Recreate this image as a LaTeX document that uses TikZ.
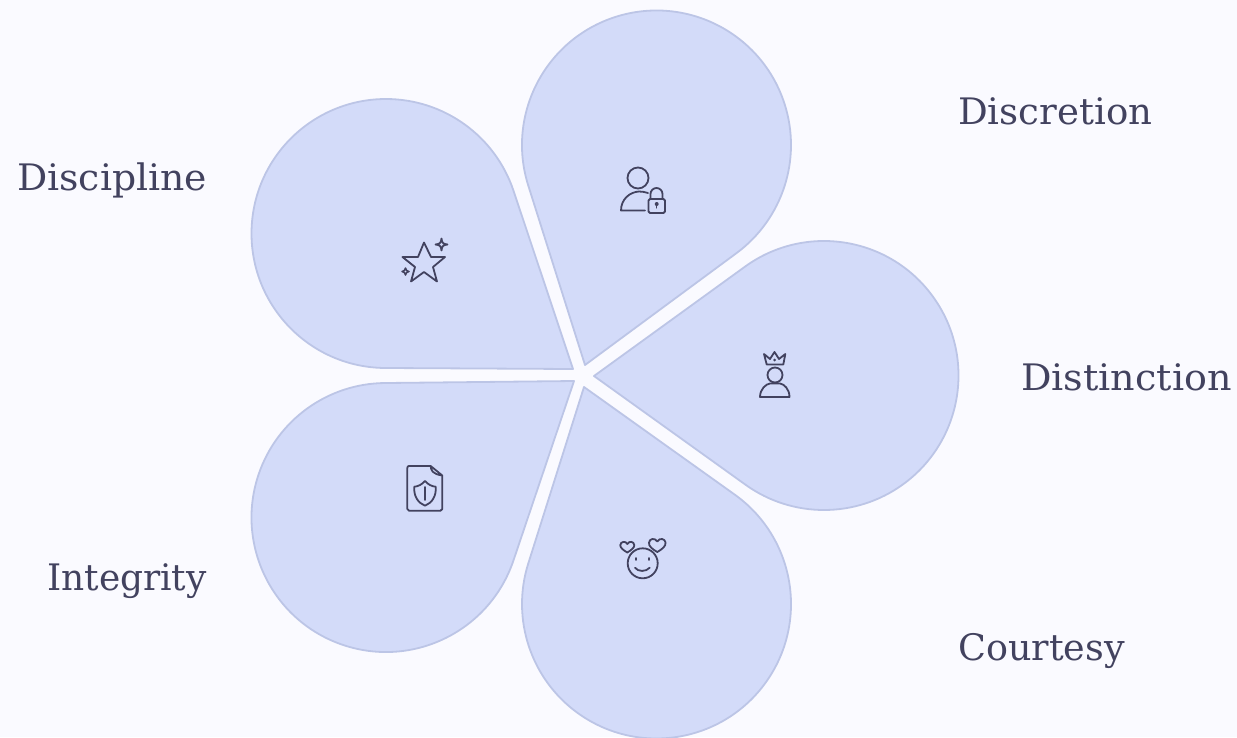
\documentclass[tikz,border=0pt]{standalone}
\usepackage{graphicx}
\usepackage{fontspec}
\setmainfont{DejaVu Serif}
\usetikzlibrary{calc}
\definecolor{bgc}{HTML}{FAFAFF}
\definecolor{petalfill}{HTML}{D3DBF9}
\definecolor{petalline}{HTML}{BCC5E6}
\definecolor{ink}{HTML}{42425F}
\newcommand{\petal}[5]{% name cx cy tipx tipy
  \pgfmathsetmacro{\th}{atan2(#5-#3,#4-#2)}
  \pgfmathsetmacro{\dd}{veclen(#4-#2,#5-#3)}
  \pgfmathsetmacro{\al}{acos(134.5/\dd)}
  \pgfmathsetmacro{\sa}{\th+\al}
  \pgfmathsetmacro{\ea}{\th-\al+360}
  \coordinate (#1 tip) at (#4,#5);
  \coordinate (#1 c) at (#2,#3);
  \draw[petalstyle] (#1 tip) -- ($(#1 c)+(\sa:134.5)$) arc[start angle=\sa,end angle=\ea,radius=134.5] -- cycle;
}
\tikzset{
  petalstyle/.style={fill=petalfill,draw=petalline,line width=1.8pt,line join=round},
  icon/.style={draw=ink,line width=1.8pt,line join=round,line cap=round},
  label/.style={anchor=base west,inner sep=0pt,text=ink,font=\fontsize{36.5}{42}\selectfont}
}
\begin{document}
\begin{tikzpicture}[x=1pt,y=-1pt]
\useasboundingbox (0,0) rectangle (1237,737);
\fill[bgc] (0,0) rectangle (1237,737);
\petal{discretion}{656.5}{145}{585}{365}
\petal{distinction}{824}{375.5}{594}{376}
\petal{courtesy}{656.5}{604}{584}{387}
\petal{integrity}{386}{517.5}{574}{381}
\petal{discipline}{386}{233.5}{573}{369}
% labels
\node[label] (lDiscretion) at (958,124.5) {\scalebox{1.017}[1]{Discretion}};
\node[label] (lDistinction) at (1021,390.5) {\scalebox{1.043}[1]{Distinction}};
\node[label] (lCourtesy) at (958,660.5) {\scalebox{1.0}[1]{Courtesy}};
\node[label] (lIntegrity) at (47,590.5) {\scalebox{0.985}[1]{Integrity}};
\node[label] (lDiscipline) at (17,190.5) {\scalebox{1.034}[1]{Discipline}};
% person lock
\draw[icon] (638,178) circle[radius=10.5];
\draw[icon] (645,210.5) -- (621,210.5) .. controls (621,199) and (630,192) .. (639,191.5) .. controls (642,191.5) and (645,192) .. (648,193);
\draw[icon,rounded corners=1.5pt] (648.5,199) rectangle (665,213);
\draw[icon] (650.5,199) -- (650.5,194) arc[start angle=180,end angle=360,radius=6] -- (662.5,199);
\fill[ink] (656.7,204) circle[radius=2];
\draw[icon,line width=1pt] (656.7,204) -- (656.7,208);
% star
\draw[icon] (424,242.5) -- (431,257) -- (445,257) -- (433,267) -- (437,281.5) -- (424,272) -- (411,281.5) -- (415,267) -- (402.5,257) -- (418,257) -- cycle;
\draw[icon] (441.5,238.5) .. controls (442,243) and (443,244) .. (447.5,244.5) .. controls (443,245) and (442,246) .. (441.5,250.5) .. controls (441,246) and (440,245) .. (435.5,244.5) .. controls (440,244) and (441,243) .. (441.5,238.5) -- cycle;
\draw[icon,line width=1.5pt] (405.5,268) .. controls (406,270.5) and (407,271) .. (409,271.5) .. controls (407,272) and (406,272.5) .. (405.5,275) .. controls (405,272.5) and (404,272) .. (402,271.5) .. controls (404,271) and (405,270.5) .. (405.5,268) -- cycle;
% crown person
\draw[icon] (764,354) -- (770,359) -- (774.5,352) -- (779,359) -- (785.3,354) -- (783.3,364.5) -- (766.7,364.5) -- cycle;
\fill[ink] (774.5,360) circle[radius=1.5];
\draw[icon] (775,375) circle[radius=7.5];
\draw[icon] (760,397) .. controls (760,389) and (766,384) .. (770,383.5) -- (780,383.5) .. controls (784,384) and (789.5,389) .. (789.5,397) -- cycle;
% document shield
\draw[icon] (430.7,466) -- (409,466) .. controls (408,466) and (407.3,466.7) .. (407.3,468) -- (407.3,509) .. controls (407.3,510) and (408,510.7) .. (409,510.7) -- (440.5,510.7) .. controls (441.5,510.7) and (442.3,510) .. (442.3,509) -- (442.3,475.5) -- (430.7,466) .. controls (431,470) and (432,474) .. (442.3,475.5);
\draw[icon] (425,481) .. controls (428,484.5) and (432,486.5) .. (435.7,486.7) .. controls (436.5,496) and (432,503) .. (425,505.7) .. controls (418,503) and (413.5,496) .. (414.3,486.7) .. controls (418,486.5) and (422,484.5) .. (425,481) -- cycle;
\draw[icon] (425,487) -- (425,500);
% smile
\draw[icon] (642.7,563.3) circle[radius=15];
\draw[icon] (636.3,558) -- (636.3,560);
\draw[icon] (648.7,558) -- (648.7,560);
\draw[icon] (635,567.7) .. controls (638,572) and (646,572) .. (649.7,567.7);
\draw[icon] (627.3,552.5) .. controls (623,550) and (620,547.5) .. (620.3,545) .. controls (620.6,541.5) and (625.5,540.5) .. (627.3,544) .. controls (629,540.5) and (634,541.5) .. (634.3,545) .. controls (634.5,547.5) and (631.5,550) .. (627.3,552.5) -- cycle;
\draw[icon] (657.3,552) .. controls (652,549) and (648.5,546) .. (649,542.5) .. controls (649.5,538.5) and (655,537.5) .. (657.3,541.5) .. controls (659.5,537.5) and (665,538.5) .. (665.5,542.5) .. controls (666,546) and (662.5,549) .. (657.3,552) -- cycle;
\end{tikzpicture}
\end{document}
